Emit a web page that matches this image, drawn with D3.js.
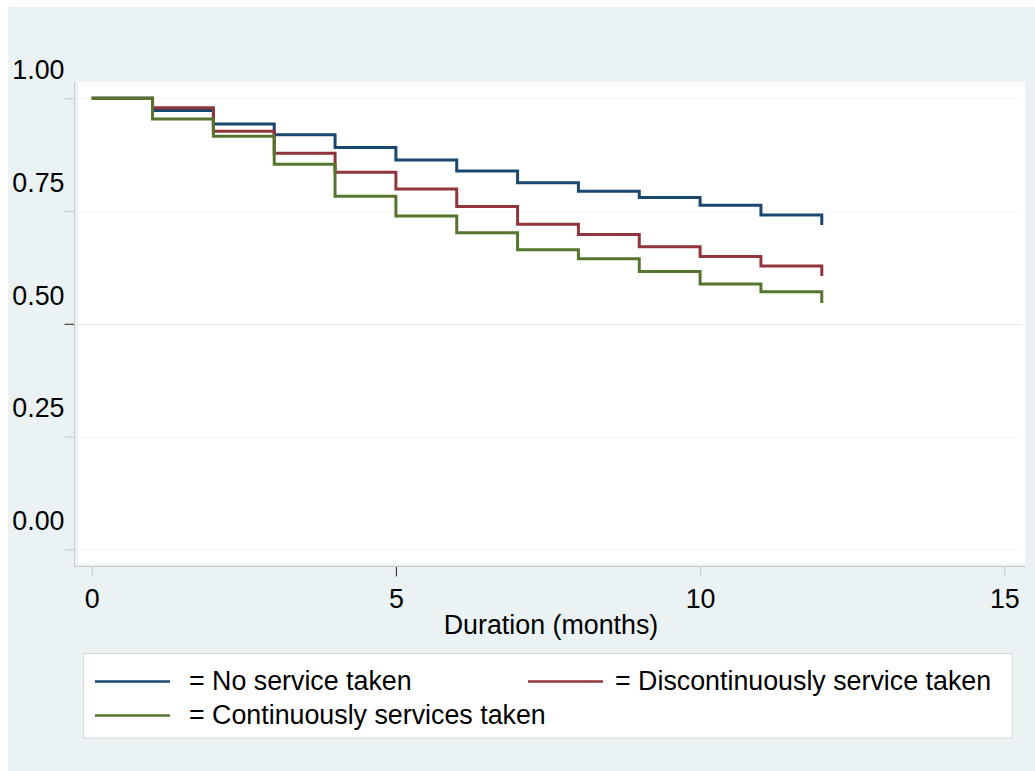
<!DOCTYPE html>
<html>
<head>
<meta charset="utf-8">
<script src="https://cdn.jsdelivr.net/npm/d3@7"></script>
<style>
  html, body { margin: 0; padding: 0; background: #ffffff; }
  svg { display: block; }
  text { font-family: "Liberation Sans", Arial, sans-serif; fill: #000; }
</style>
</head>
<body>
<script>
// Kaplan-Meier survival estimates by service group (month 0 to 12)
const months = [0, 1, 2, 3, 4, 5, 6, 7, 8, 9, 10, 11, 12];
const noService      = [1.000, 0.973, 0.943, 0.919, 0.891, 0.863, 0.839, 0.813, 0.794, 0.780, 0.763, 0.741, 0.719];
const discontinuous  = [1.000, 0.979, 0.927, 0.878, 0.836, 0.799, 0.760, 0.721, 0.698, 0.671, 0.649, 0.628, 0.606];
const continuous     = [1.000, 0.954, 0.916, 0.854, 0.783, 0.739, 0.702, 0.664, 0.644, 0.616, 0.588, 0.571, 0.546];

const seriesNames = ["No service taken", "Discontinuously service taken", "Continuously services taken"];
const seriesColors = ["#1a476f", "#90353b", "#55752f"];
const xTicks = [0, 5, 10, 15];
const yTicks = [0, 0.25, 0.5, 0.75, 1];
const xTitle = "Duration (months)";

const W = 1035, H = 771;
const FS = 26.8;
const svg = d3.select("body").append("svg").attr("width", W).attr("height", H);

// graph region background
svg.append("rect").attr("x", 8).attr("y", 7).attr("width", W - 8).attr("height", H - 7).attr("fill", "#eaf2f3");

const x = d3.scaleLinear().domain([0, 15]).range([91.7, 1004.3]);
const y = d3.scaleLinear().domain([0, 1]).range([549.3, 98.3]);

// plot region
svg.append("rect").attr("x", 78).attr("y", 82).attr("width", 1025 - 78).attr("height", 564 - 82).attr("fill", "#ffffff");

// horizontal grid lines
svg.append("g").selectAll("line").data(yTicks).join("line")
  .attr("x1", 78).attr("x2", 1022)
  .attr("y1", d => Math.round(y(d)) + 0.5).attr("y2", d => Math.round(y(d)) + 0.5)
  .attr("stroke", d => d === 0.5 ? "#e3e8ea" : "#f5f7f8").attr("stroke-width", 1);

// y axis
const yAxis = svg.append("g").attr("transform", "translate(74.5,0)")
  .call(d3.axisLeft(y).tickValues(yTicks).tickFormat(d3.format(".2f")).tickSize(10).tickPadding(0));
yAxis.select(".domain").remove();
yAxis.selectAll(".tick line").attr("stroke", d => d === 0.5 ? "#222" : "#c3c9cb");
yAxis.selectAll(".tick text")
  .attr("x", -10).attr("dy", "-0.73em")
  .attr("font-size", FS).attr("font-family", "Liberation Sans, Arial, sans-serif").attr("fill", "#000");
svg.append("line").attr("x1", 74.5).attr("x2", 74.5).attr("y1", 82).attr("y2", 566.5).attr("stroke", "#c3c9cb");

// x axis
const xAxis = svg.append("g").attr("transform", "translate(0,566.5)")
  .call(d3.axisBottom(x).tickValues(xTicks).tickFormat(d3.format("d")).tickSize(10).tickPadding(12));
xAxis.select(".domain").remove();
xAxis.selectAll(".tick line").attr("stroke", d => d === 5 ? "#222" : "#c3c9cb");
xAxis.selectAll(".tick text")
  .attr("font-size", FS).attr("font-family", "Liberation Sans, Arial, sans-serif").attr("fill", "#000");
svg.append("line").attr("x1", 74).attr("x2", 1025).attr("y1", 566.5).attr("y2", 566.5).attr("stroke", "#c3c9cb");

svg.append("text").attr("x", 551).attr("y", 634).attr("text-anchor", "middle")
  .attr("font-size", FS).text(xTitle);

// survival step curves
const seriesData = [noService, discontinuous, continuous];
const line = d3.line()
  .x((d, i) => x(months[i]))
  .y(d => y(d))
  .curve(d3.curveStepAfter);

svg.append("g").selectAll("path").data(seriesData).join("path")
  .attr("d", d => line(d))
  .attr("fill", "none")
  .attr("stroke", (d, i) => seriesColors[i])
  .attr("stroke-width", 3)
  .attr("stroke-linejoin", "miter")
  .attr("stroke-linecap", "butt");

// legend
const lg = svg.append("g");
lg.append("rect").attr("x", 83.5).attr("y", 653.5).attr("width", 1012 - 83.5).attr("height", 738 - 653.5)
  .attr("fill", "#ffffff").attr("stroke", "#d4d9db").attr("stroke-width", 1);
const legendPos = [
  { lx: 95, ty: 681.5, tx: 189 },
  { lx: 528, ty: 681.5, tx: 615 },
  { lx: 95, ty: 715.5, tx: 189 }
];
seriesNames.forEach((name, i) => {
  const p = legendPos[i];
  lg.append("line").attr("x1", p.lx).attr("x2", p.lx + 75).attr("y1", p.ty).attr("y2", p.ty)
    .attr("stroke", seriesColors[i]).attr("stroke-width", 2.5);
  lg.append("text").attr("x", p.tx).attr("y", p.ty + 8).attr("font-size", FS).text("= " + name);
});
</script>
</body>
</html>
